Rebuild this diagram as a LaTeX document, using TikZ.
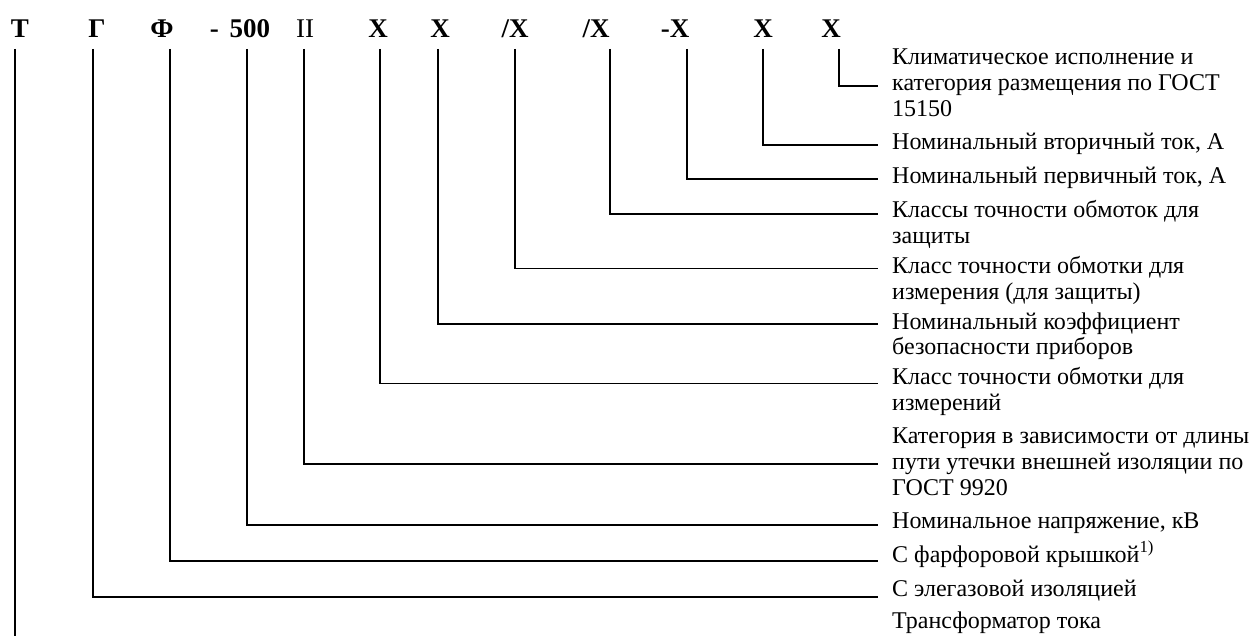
\documentclass[tikz,border=0pt]{standalone}
\usepackage{fontspec}
\setmainfont{Liberation Serif}
\begin{document}
\begin{tikzpicture}[x=1pt,y=-1pt,
  hdr/.style={font=\bfseries\fontsize{27}{27}\selectfont, anchor=base, inner sep=0pt},
  hdrn/.style={font=\fontsize{27}{27}\selectfont, anchor=base, inner sep=0pt},
  lab/.style={anchor=west, font=\fontsize{24}{26}\selectfont, inner xsep=14pt, inner ysep=0pt, text height=12pt, text depth=2pt},
  conn/.style={line width=1.4pt}]
\useasboundingbox (0,0) rectangle (1258,636);
% header
\node[hdr] (hT) at (20,38) {Т};
\node[hdr] (hG) at (97,38) {Г};
\node[hdr] (hF) at (162,38) {Ф};
\node[hdr] (h500) at (240,38) {-\hspace{0.4em}500};
\node[hdrn] (hII) at (305,38) {II};
\node[hdr] (hX1) at (378,38) {Х};
\node[hdr] (hX2) at (440,38) {Х};
\node[hdr] (hX3) at (515,38) {/Х};
\node[hdr] (hX4) at (596,38) {/Х};
\node[hdr] (hX5) at (675,38) {-Х};
\node[hdr] (hX6) at (763,38) {Х};
\node[hdr] (hX7) at (831,38) {Х};
% start points of connectors
\coordinate (sT) at (15,49);
\coordinate (sG) at (93,49);
\coordinate (sF) at (170,49);
\coordinate (s500) at (247,49);
\coordinate (sII) at (304,49);
\coordinate (sX1) at (380,49);
\coordinate (sX2) at (438,49);
\coordinate (sX3) at (515,49);
\coordinate (sX4) at (610,49);
\coordinate (sX5) at (687,49);
\coordinate (sX6) at (763,49);
\coordinate (sX7) at (839,49);
\coordinate (bT) at (15,636);
% labels
\node[lab] (a1) at (878,60) {Климатическое исполнение и};
\node[lab] (a2) at (878,86) {категория размещения по ГОСТ};
\node[lab] (a3) at (878,112) {15150};
\node[lab] (b1) at (878,145) {Номинальный вторичный ток, А};
\node[lab] (c1) at (878,179) {Номинальный первичный ток, А};
\node[lab] (d1) at (878,213) {Классы точности обмоток для};
\node[lab] (d2) at (878,238.5) {защиты};
\node[lab] (e1) at (878,268.5) {Класс точности обмотки для};
\node[lab] (e2) at (878,294) {измерения (для защиты)};
\node[lab] (f1) at (878,324) {Номинальный коэффициент};
\node[lab] (f2) at (878,349.5) {безопасности приборов};
\node[lab] (g1) at (878,379.5) {Класс точности обмотки для};
\node[lab] (g2) at (878,405) {измерений};
\node[lab] (h1) at (878,438) {Категория в зависимости от длины};
\node[lab] (h2) at (878,464) {пути утечки внешней изоляции по};
\node[lab] (h3) at (878,490) {ГОСТ 9920};
\node[lab] (i1) at (878,523) {Номинальное напряжение, кВ};
\node[lab] (j1) at (878,557) {С фарфоровой крышкой\textsuperscript{1)}};
\node[lab] (k1) at (878,591) {С элегазовой изоляцией};
\node[lab] (l1) at (878,623) {Трансформатор тока};
% connectors
\draw[conn] (sX7) |- (a2.west);
\draw[conn] (sX6) |- (b1.west);
\draw[conn] (sX5) |- (c1.west);
\draw[conn] (sX4) |- ([yshift=-1pt]d1.west);
\draw[conn] (sX3) |- (e1.west);
\draw[conn] (sX2) |- (f1.west);
\draw[conn] (sX1) |- ([yshift=-4pt]g1.west);
\draw[conn] (sII) |- (h2.west);
\draw[conn] (s500) |- ([yshift=-2pt]i1.west);
\draw[conn] (sF) |- ([yshift=-4pt]j1.west);
\draw[conn] (sG) |- ([yshift=-6pt]k1.west);
\draw[conn] (sT) -- (bT);
\end{tikzpicture}
\end{document}
